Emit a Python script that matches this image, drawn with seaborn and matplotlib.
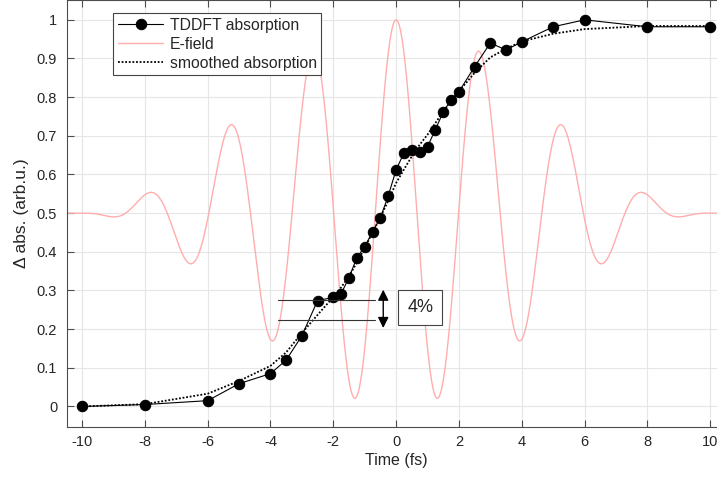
import numpy as np
import pandas as pd
import seaborn as sns
import matplotlib.pyplot as plt

# TDDFT absorption
time_fs = [-10, -8, -6, -5, -4, -3.5, -3, -2.5, -2, -1.75, -1.5, -1.25, -1, -0.75,
           -0.5, -0.25, 0, 0.25, 0.5, 0.75, 1, 1.25, 1.5, 1.75, 2, 2.5, 3, 3.5,
           4, 5, 6, 8, 10]
tddft_abs = [0.0, 0.005, 0.015, 0.059, 0.085, 0.12, 0.183, 0.274, 0.282, 0.292,
             0.333, 0.385, 0.413, 0.452, 0.488, 0.545, 0.612, 0.656, 0.664, 0.659,
             0.672, 0.716, 0.762, 0.793, 0.814, 0.879, 0.94, 0.922, 0.943, 0.982,
             1.0, 0.982, 0.982]
smoothed_abs = [0.0, 0.006, 0.033, 0.066, 0.105, 0.14, 0.19, 0.237, 0.283, 0.308,
                0.337, 0.372, 0.41, 0.45, 0.49, 0.532, 0.578, 0.613, 0.647, 0.677,
                0.703, 0.733, 0.763, 0.79, 0.815, 0.863, 0.903, 0.925, 0.944, 0.964,
                0.976, 0.984, 0.984]

# laser pulse (cos^2 envelope), drawn offset/scaled onto the same axis
pulse_period = 2.65   # fs
pulse_halfwidth = 10.0  # fs
t_field = np.linspace(-10.6, 10.6, 1500)
env = np.where(np.abs(t_field) < pulse_halfwidth,
               np.cos(np.pi * t_field / (2 * pulse_halfwidth)) ** 2, 0.0)
e_field = 0.5 + 0.5 * env * np.cos(2 * np.pi * t_field / pulse_period)

df_abs = pd.DataFrame({'t': time_fs, 'tddft': tddft_abs, 'smooth': smoothed_abs})
df_field = pd.DataFrame({'t': t_field, 'E': e_field})

sns.set_theme(style='ticks')
plt.rcParams['font.family'] = ['Liberation Sans', 'DejaVu Sans']
plt.rcParams['axes.unicode_minus'] = False
txt = '#262626'

fig = plt.figure(figsize=(7.17, 4.82), dpi=100)
ax = fig.add_axes([0.0934, 0.115, 0.919, 0.884])

sns.lineplot(data=df_field, x='t', y='E', ax=ax, color='#ffadad', lw=1.0,
             label='E-field', zorder=1, legend=False)
sns.lineplot(data=df_abs, x='t', y='smooth', ax=ax, color='black', lw=1.3,
             linestyle=(0, (1, 1)), label='smoothed absorption', zorder=2, legend=False)
sns.lineplot(data=df_abs, x='t', y='tddft', ax=ax, color='black', lw=0.8,
             marker='o', markersize=7.5, markeredgecolor='black',
             label='TDDFT absorption', zorder=3, legend=False)

# 4% annotation
ax.plot([-3.76, -0.67], [0.2765, 0.2765], color='#333333', lw=0.8, zorder=4)
ax.plot([-3.76, -0.67], [0.2248, 0.2248], color='#333333', lw=0.8, zorder=4)
ax.annotate('', xy=(-0.41, 0.302), xytext=(-0.41, 0.203),
            arrowprops=dict(arrowstyle='<|-|>', color='black', lw=1.0,
                            mutation_scale=16, shrinkA=0, shrinkB=0))
ax.text(0.77, 0.256, '4%', fontsize=13, color=txt, ha='center', va='center',
        bbox=dict(boxstyle='square,pad=0.5', fc='white', ec='#444444', lw=0.8))

ax.set_xlim(-10.48, 10.5)
ax.set_ylim(-0.052, 1.05)
ax.set_xticks(range(-10, 11, 2))
ax.set_yticks(np.arange(0, 1.01, 0.1))
ax.set_yticklabels(['0', '0.1', '0.2', '0.3', '0.4', '0.5', '0.6', '0.7', '0.8', '0.9', '1'])
ax.grid(True, color='#e6e6e6', lw=0.8)
ax.set_axisbelow(True)
ax.tick_params(direction='in', top=True, right=True, labelsize=10.5,
               colors='#4d4d4d', labelcolor=txt, length=5, width=0.8)
ax.tick_params(axis='y', pad=7)
ax.tick_params(axis='x', pad=6)
for s in ax.spines.values():
    s.set_visible(True)
    s.set_color('#4d4d4d')
    s.set_linewidth(0.8)

ax.set_xlabel('Time (fs)', fontsize=11.5, color=txt, labelpad=3)
ax.set_ylabel('Δ abs. (arb.u.)', fontsize=12.5, color=txt, labelpad=6)

h, l = ax.get_legend_handles_labels()
order = [l.index('TDDFT absorption'), l.index('E-field'), l.index('smoothed absorption')]
leg = ax.legend([h[i] for i in order], [l[i] for i in order], loc='upper left',
                bbox_to_anchor=(0.07, 0.971), fontsize=11.3, frameon=True,
                fancybox=False, framealpha=1, edgecolor='#444444', handlelength=2.9,
                labelspacing=0.26, borderpad=0.3, handletextpad=0.4, borderaxespad=0)
leg.get_frame().set_linewidth(0.8)
for t in leg.get_texts():
    t.set_color(txt)

fig.savefig('out.png', dpi=100)
